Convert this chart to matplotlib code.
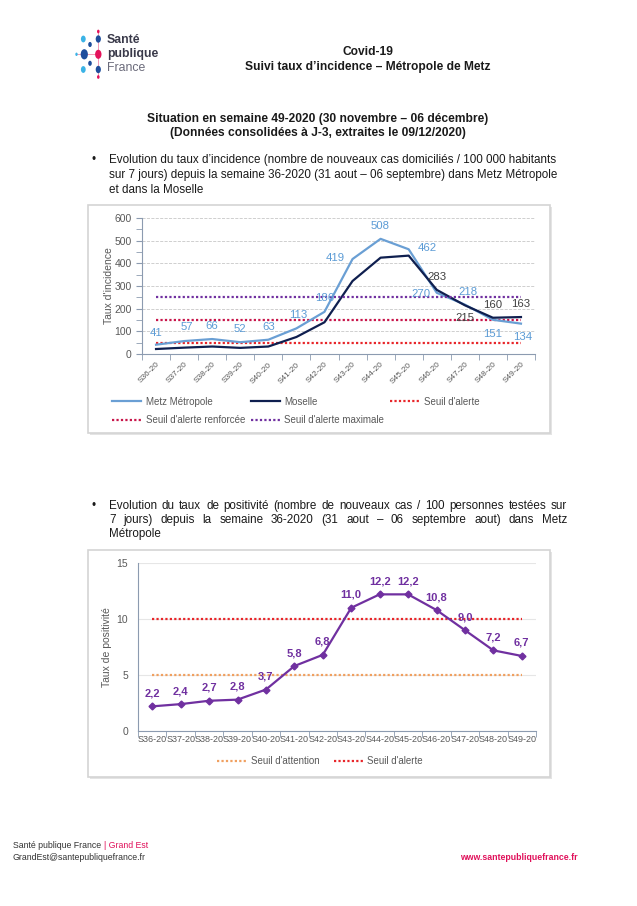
import numpy as np
import matplotlib
matplotlib.use("Agg")
import matplotlib.pyplot as plt
from matplotlib.patches import Rectangle, Circle
from matplotlib.lines import Line2D
from matplotlib.ticker import MultipleLocator, FixedLocator

plt.rcParams['font.family'] = ['Liberation Sans', 'DejaVu Sans']

# ---- data ----
weeks = ['S36-20', 'S37-20', 'S38-20', 'S39-20', 'S40-20', 'S41-20', 'S42-20',
         'S43-20', 'S44-20', 'S45-20', 'S46-20', 'S47-20', 'S48-20', 'S49-20']
metz_incid = [41, 57, 66, 52, 63, 113, 186, 419, 508, 462, 270, 218, 151, 134]
moselle_incid = [22, 28, 33, 27, 33, 75, 140, 322, 425, 434, 283, 215, 160, 163]
moselle_labelled = [False] * 10 + [True, True, True, True]
seuil_alerte = 50
seuil_renforcee = 150
seuil_maximale = 250

positivite = [2.2, 2.4, 2.7, 2.8, 3.7, 5.8, 6.8, 11.0, 12.2, 12.2, 10.8, 9.0, 7.2, 6.7]
seuil_attention_pos = 5
seuil_alerte_pos = 10

# label offsets in pixels (placement only)
metz_off = [(0, 12), (3, 14), (0, 13), (0, 13), (0, 13), (2, 13), (0, 14),
            (-17, 1), (0, 13), (19, 1), (-16, -1), (3, 13), (0, -14), (2, -13)]
moselle_off = [(0, 13)] * 10 + [(0, 13), (0, -13), (0, 13), (0, 13)]

W, H = 637, 906
fig = plt.figure(figsize=(W / 100, H / 100), dpi=100, facecolor='white')
renderer = fig.canvas.get_renderer()


def fx(x):
    return x / W


def fy(y):
    return 1 - y / H


def px_axes(x0, y0, x1, y1):
    return fig.add_axes([fx(x0), fy(y1), (x1 - x0) / W, (y1 - y0) / H])


def frame(x0, y0, x1, y1):
    shadow = Rectangle((fx(x0 + 2), fy(y1 + 2)), (x1 - x0) / W, (y1 - y0) / H,
                       transform=fig.transFigure, facecolor='#E4E4E4',
                       edgecolor='none', zorder=-2)
    box = Rectangle((fx(x0), fy(y1)), (x1 - x0) / W, (y1 - y0) / H,
                    transform=fig.transFigure, facecolor='white',
                    edgecolor='#D4D4D4', linewidth=1.2, zorder=-1)
    fig.patches.extend([shadow, box])


def justified(line, y, left, right, **kw):
    words = line.split(' ')
    texts = [fig.text(0, fy(y), w, va='center', **kw) for w in words]
    widths = [t.get_window_extent(renderer).width for t in texts]
    gap = (right - left - sum(widths)) / (len(words) - 1)
    xpos = left
    for t, wd in zip(texts, widths):
        t.set_x(fx(xpos))
        xpos += wd + gap


TXT = '#1a1a1a'
GREY = '#595959'
CRIMSON = '#E0105A'

# ---- logo ----
logo_dots = [  # x, y, radius, color
    (98.3, 31.5, 1.3, '#E4135B'), (98.3, 39, 2.6, '#1F4E9C'), (83.3, 39, 2.4, '#3BB3E6'),
    (90, 44.5, 1.8, '#1F4E9C'), (76.5, 54.3, 1.2, '#3BB3E6'), (84.3, 54.3, 3.6, '#1F4E9C'),
    (98.3, 54.3, 3.2, '#E4135B'), (90, 63.3, 1.8, '#1F4E9C'), (83.3, 69.5, 2.4, '#3BB3E6'),
    (98.3, 69.5, 2.6, '#1F4E9C'), (98.3, 77, 1.3, '#E4135B')]
fig.lines.append(Line2D([fx(98.3), fx(98.3)], [fy(31), fy(77)], transform=fig.transFigure,
                        color='#F08CAB', lw=0.6, zorder=1))
fig.lines.append(Line2D([fx(76), fx(98.3)], [fy(54.3), fy(54.3)], transform=fig.transFigure,
                        color='#F08CAB', lw=0.6, zorder=1))
for x, y, r, c in logo_dots:
    fig.patches.append(Circle((fx(x), fy(y)), r / W, transform=fig.transFigure,
                              facecolor=c, edgecolor='none', zorder=2))
fig.text(fx(107), fy(40), 'Santé', fontsize=8.8, fontweight='bold', color='#3a3a4a', va='center')
fig.text(fx(107), fy(54), 'publique', fontsize=8.8, fontweight='bold', color='#3a3a4a', va='center')
fig.text(fx(107), fy(68), 'France', fontsize=8.8, color='#6a6a7a', va='center')

# ---- header ----
HEAD = 8.65
fig.text(fx(368), fy(52), 'Covid-19', fontsize=HEAD, fontweight='bold', color=TXT, ha='center', va='center')
fig.text(fx(368), fy(67), 'Suivi taux d\u2019incidence \u2013 Métropole de Metz', fontsize=HEAD,
         fontweight='bold', color=TXT, ha='center', va='center')
fig.text(fx(318), fy(119), 'Situation en semaine 49-2020 (30 novembre \u2013 06 décembre)',
         fontsize=HEAD, fontweight='bold', color=TXT, ha='center', va='center')
fig.text(fx(318), fy(133), '(Données consolidées à J-3, extraites le 09/12/2020)',
         fontsize=HEAD, fontweight='bold', color=TXT, ha='center', va='center')

BODY = 8.4
fig.text(fx(92), fy(160), '\u2022', fontsize=BODY, color=TXT, va='center')
para1 = ['Evolution du taux d\u2019incidence (nombre de nouveaux cas domiciliés / 100 000 habitants',
         'sur 7 jours) depuis la semaine 36-2020 (31 aout \u2013 06 septembre) dans Metz Métropole',
         'et dans la Moselle']
for i, line in enumerate(para1):
    fig.text(fx(109), fy(160 + 15 * i), line, fontsize=BODY, color=TXT, va='center')

fig.text(fx(92), fy(506), '\u2022', fontsize=BODY, color=TXT, va='center')
justified('Evolution du taux de positivité (nombre de nouveaux cas / 100 personnes testées sur',
          506, 109, 567, fontsize=BODY, color=TXT)
justified('7 jours) depuis la semaine 36-2020 (31 aout \u2013 06 septembre aout) dans Metz',
          520, 109, 567, fontsize=BODY, color=TXT)
fig.text(fx(109), fy(534), 'Métropole', fontsize=BODY, color=TXT, va='center')

# ---- chart 1 : incidence ----
frame(88, 205, 550, 433)
ax1 = px_axes(142, 218, 535, 354)
x = np.arange(len(weeks))
ax1.plot(x, metz_incid, color='#6A9FD4', lw=1.6, zorder=4, label='Metz Métropole')
ax1.plot(x, moselle_incid, color='#0F1F4F', lw=1.6, zorder=5, label='Moselle')
dot = (0, (1, 1))
ax1.plot([x[0], x[-1]], [seuil_alerte] * 2, color='#E8262A', lw=1.6, ls=dot, zorder=3, label='Seuil d\'alerte')
ax1.plot([x[0], x[-1]], [seuil_renforcee] * 2, color='#C8154A', lw=1.6, ls=dot, zorder=3,
         label='Seuil d\'alerte renforcée')
ax1.plot([x[0], x[-1]], [seuil_maximale] * 2, color='#7030A0', lw=1.6, ls=dot, zorder=6,
         label='Seuil d\'alerte maximale')
for i, v in enumerate(metz_incid):
    ax1.annotate(str(v), (x[i], v), xytext=metz_off[i], textcoords='offset pixels',
                 ha='center', va='center', fontsize=8.2, color='#5B9BD5', zorder=7)
for i, v in enumerate(moselle_incid):
    if moselle_labelled[i]:
        ax1.annotate(str(v), (x[i], v), xytext=moselle_off[i], textcoords='offset pixels',
                     ha='center', va='center', fontsize=8.2, color='#404040', zorder=7)
ax1.set_xlim(-0.5, len(weeks) - 0.5)
ax1.set_ylim(0, 600)
ax1.yaxis.set_major_locator(MultipleLocator(100))
ax1.yaxis.set_minor_locator(MultipleLocator(50))
ax1.set_xticks(x)
ax1.set_xticklabels(weeks, rotation=45, ha='right', rotation_mode='anchor', fontsize=6, color=GREY)
ax1.xaxis.set_minor_locator(FixedLocator(np.arange(-0.5, len(weeks), 1)))
ax1.tick_params(axis='x', which='major', length=0, pad=5)
ax1.tick_params(axis='x', which='minor', length=4, color='#8C9BB0')
ax1.tick_params(axis='y', which='both', length=4, color='#8C9BB0', labelsize=7.5, labelcolor=GREY)
ax1.grid(axis='y', which='major', color='#C8C8C8', ls='--', lw=0.6)
ax1.set_axisbelow(True)
for s in ['top', 'right']:
    ax1.spines[s].set_visible(False)
for s in ['left', 'bottom']:
    ax1.spines[s].set_color('#8C9BB0')
ax1.set_ylabel('Taux d\'incidence', fontsize=7.5, color=GREY, labelpad=0)
ax1.patch.set_alpha(0)

h, l = ax1.get_legend_handles_labels()
order = [0, 3, 1, 4, 2]
fig.legend([h[i] for i in order], [l[i] for i in order], ncol=3, loc='center left',
           bbox_to_anchor=(fx(112), fy(411)), frameon=False, fontsize=7, handlelength=3.0,
           handletextpad=0.45, columnspacing=0.6, labelspacing=0.85, labelcolor=GREY,
           borderaxespad=0, borderpad=0)

# ---- chart 2 : positivité ----
frame(88, 550, 550, 777)
ax2 = px_axes(138, 563, 536, 731)
ax2.plot(x, positivite, color='#7030A0', lw=1.6, marker='D', ms=3.5, zorder=5)
ax2.plot([x[0], x[-1]], [seuil_attention_pos] * 2, color='#F0A060', lw=1.6, ls=dot, zorder=3,
         label='Seuil d\'attention')
ax2.plot([x[0], x[-1]], [seuil_alerte_pos] * 2, color='#E8262A', lw=1.6, ls=dot, zorder=3,
         label='Seuil d\'alerte')
for i, v in enumerate(positivite):
    ax2.annotate(f'{v:.1f}'.replace('.', ','), (x[i], v), xytext=(0, 13), textcoords='offset pixels',
                 ha='center', va='center', fontsize=8, fontweight='bold', color='#7030A0', zorder=7)
ax2.set_xlim(-0.5, len(weeks) - 0.5)
ax2.set_ylim(0, 15)
ax2.set_yticks([0, 5, 10, 15])
ax2.set_xticks(x)
ax2.set_xticklabels(weeks, fontsize=6.5, color=GREY)
ax2.xaxis.set_minor_locator(FixedLocator(np.arange(-0.5, len(weeks), 1)))
ax2.tick_params(axis='x', which='major', length=0, pad=3)
ax2.tick_params(axis='x', which='minor', length=4, color='#8C9BB0')
ax2.tick_params(axis='y', length=0, labelsize=7.5, labelcolor=GREY, pad=7)
ax2.grid(axis='y', color='#E6E6E6', lw=0.8)
ax2.set_axisbelow(True)
for s in ['top', 'right']:
    ax2.spines[s].set_visible(False)
for s in ['left', 'bottom']:
    ax2.spines[s].set_color('#8C9BB0')
ax2.set_ylabel('Taux de positivité', fontsize=7.5, color=GREY, labelpad=3)
ax2.patch.set_alpha(0)
fig.legend(*ax2.get_legend_handles_labels(), ncol=2, loc='center', bbox_to_anchor=(fx(320), fy(761)),
           frameon=False, fontsize=7, handlelength=3.0, handletextpad=0.45, columnspacing=1.5,
           labelcolor=GREY, borderaxespad=0, borderpad=0)

# ---- footer ----
t1 = fig.text(fx(13), fy(846), 'Santé publique France ', fontsize=6.3, color='#333333', va='center')
w1 = t1.get_window_extent(renderer).width
fig.text(fx(13 + w1), fy(846), '| Grand Est', fontsize=6.3, color=CRIMSON, va='center')
fig.text(fx(13), fy(858), 'GrandEst@santepubliquefrance.fr', fontsize=6.3, color='#333333', va='center')
fig.text(fx(460), fy(858), 'www.santepubliquefrance.fr', fontsize=6.3, fontweight='bold',
         color=CRIMSON, va='center')

fig.savefig('out.png', dpi=100, facecolor='white')
